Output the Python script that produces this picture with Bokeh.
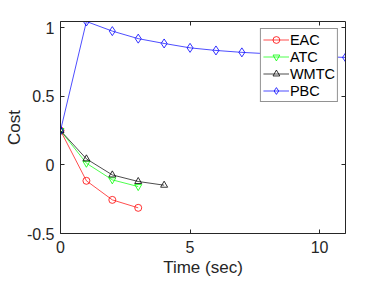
from bokeh.plotting import figure
from bokeh.models import LinearAxis, Range1d, FixedTicker, Legend, LegendItem
from bokeh.embed import file_html
from bokeh.resources import INLINE

t_pbc = [0, 1, 2, 3, 4, 5, 6, 7, 8, 9, 10, 11]
pbc = [0.25, 1.045, 0.975, 0.92, 0.885, 0.853, 0.834, 0.82, 0.81, 0.80, 0.79, 0.783]
t_eac = [0, 1, 2, 3]
eac = [0.25, -0.116, -0.255, -0.313]
t_atc = [0, 1, 2, 3]
atc = [0.25, 0.012, -0.109, -0.158]
t_wmtc = [0, 1, 2, 3, 4]
wmtc = [0.25, 0.044, -0.073, -0.121, -0.148]

x_ticks = [0, 5, 10]
y_ticks = [-0.5, 0, 0.5, 1]
y_labels = {-0.5: "-0.5", 0: "0", 0.5: "0.5", 1: "1"}

FONT = "Liberation Sans"
AX = "#262626"

p = figure(width=366, height=281, output_backend="svg", toolbar_location=None,
           x_range=Range1d(0, 11), y_range=Range1d(-0.5, 1.045),
           min_border_left=60, min_border_right=21, min_border_top=21, min_border_bottom=48,
           x_axis_label="Time (sec)", y_axis_label="Cost")
p.grid.visible = False
p.outline_line_color = None
p.background_fill_color = "white"
p.border_fill_color = "white"

def style(ax, labels=True):
    ax.axis_line_color = AX
    ax.axis_line_width = 1
    ax.major_tick_in = 4
    ax.major_tick_out = 0
    ax.minor_tick_line_color = None
    ax.major_tick_line_color = AX
    ax.major_label_text_font = FONT
    ax.major_label_text_font_size = "16px"
    ax.major_label_text_color = AX
    ax.axis_label_text_font = FONT
    ax.axis_label_text_font_size = "17px"
    ax.axis_label_text_font_style = "normal"
    ax.axis_label_text_color = AX
    if not labels:
        ax.major_label_text_alpha = 0
        ax.major_label_text_font_size = "1px"
        ax.major_label_standoff = 0

p.xaxis.ticker = FixedTicker(ticks=x_ticks)
p.yaxis.ticker = FixedTicker(ticks=y_ticks)
p.yaxis.major_label_overrides = y_labels
style(p.xaxis[0])
style(p.yaxis[0])
p.xaxis.major_label_standoff = 7
p.xaxis.axis_label_standoff = 2
p.yaxis.major_label_standoff = 6
p.yaxis.axis_label_standoff = 0

top = LinearAxis(ticker=FixedTicker(ticks=x_ticks))
style(top, False)
p.add_layout(top, "above")
right = LinearAxis(ticker=FixedTicker(ticks=y_ticks))
style(right, False)
p.add_layout(right, "right")

series = [
    ("EAC", t_eac, eac, "#ff0000", "circle"),
    ("ATC", t_atc, atc, "#00ff00", "inverted_triangle"),
    ("WMTC", t_wmtc, wmtc, "#000000", "triangle"),
    ("PBC", t_pbc, pbc, "#0000ff", "diamond"),
]
items = []
for name, xs, ys, col, mk in series:
    l = p.line(xs, ys, line_color=col, line_width=0.7)
    sz = 9 if mk == "diamond" else 7
    m = p.scatter(xs, ys, marker=mk, size=sz, line_color=col, fill_color="white",
                  fill_alpha=0, line_width=0.8)
    items.append(LegendItem(label=name, renderers=[l, m]))

leg = Legend(items=items, location="top_right", margin=7)
leg.label_text_font = FONT
leg.label_text_font_size = "14.5px"
leg.label_text_color = "black"
leg.border_line_color = AX
leg.border_line_width = 1
leg.padding = 2
leg.spacing = 0
leg.glyph_width = 26
leg.glyph_height = 17
leg.label_height = 17
leg.label_standoff = 1
leg.background_fill_alpha = 1
p.add_layout(leg)

open("out.html", "w").write(file_html(p, INLINE))
